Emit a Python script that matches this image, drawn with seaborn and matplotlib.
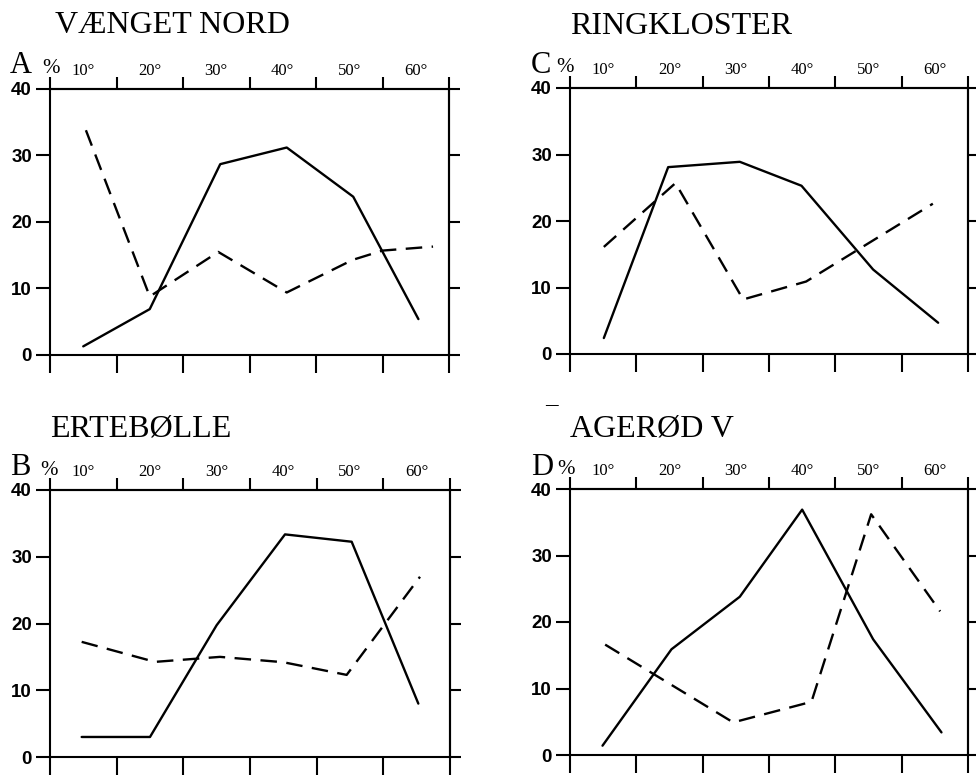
import matplotlib
matplotlib.use('Agg')
import matplotlib.pyplot as plt
import seaborn as sns
import pandas as pd
from matplotlib import font_manager

sns.set_style('ticks')
plt.rcParams['font.family'] = ['Liberation Serif', 'DejaVu Serif']
for k in ['text.color', 'axes.labelcolor', 'xtick.color', 'ytick.color', 'axes.edgecolor']:
    plt.rcParams[k] = 'black'

_names = {f.name for f in font_manager.fontManager.ttflist}
YFONT = 'Liberation Sans Narrow' if 'Liberation Sans Narrow' in _names else 'Liberation Sans'

# ---------------- data ----------------
titles = ['VÆNGET NORD', 'RINGKLOSTER', 'ERTEBØLLE', 'AGERØD V']
letters = ['A', 'C', 'B', 'D']
deg_centers = [10, 20, 30, 40, 50, 60]
deg_labels = ['10°', '20°', '30°', '40°', '50°', '60°']
bin_edges = [5, 15, 25, 35, 45, 55, 65]
y_ticks = [0, 10, 20, 30, 40]
y_labels = ['0', '10', '20', '30', '40']

a_solid_x = [10.0, 20.0, 30.6, 40.6, 50.6, 60.4]
a_solid_y = [1.3, 6.9, 28.7, 31.2, 23.8, 5.4]
a_dash_x = [10.4, 20.0, 30.3, 40.6, 50.5, 55.0, 62.6]
a_dash_y = [33.8, 8.8, 15.5, 9.4, 14.3, 15.7, 16.3]

c_solid_x = [10.1, 19.8, 30.6, 39.9, 50.7, 60.5]
c_solid_y = [2.4, 28.1, 28.9, 25.3, 12.7, 4.7]
c_dash_x = [10.1, 20.9, 31.1, 40.6, 59.7]
c_dash_y = [16.1, 25.7, 8.2, 10.9, 22.6]

b_solid_x = [9.75, 20.0, 30.0, 40.25, 50.25, 60.25]
b_solid_y = [3.0, 3.0, 19.75, 33.35, 32.25, 8.0]
b_dash_x = [9.75, 20.75, 30.5, 40.0, 49.5, 60.5]
b_dash_y = [17.25, 14.25, 15.0, 14.2, 12.3, 27.0]

d_solid_x = [9.9, 20.3, 30.6, 40.0, 50.7, 61.0]
d_solid_y = [1.4, 15.9, 23.8, 36.9, 17.4, 3.4]
d_dash_x = [10.3, 29.6, 41.4, 50.4, 60.8]
d_dash_y = [16.6, 4.9, 8.0, 36.2, 21.6]

panels = [
    (a_solid_x, a_solid_y, a_dash_x, a_dash_y),
    (c_solid_x, c_solid_y, c_dash_x, c_dash_y),
    (b_solid_x, b_solid_y, b_dash_x, b_dash_y),
    (d_solid_x, d_solid_y, d_dash_x, d_dash_y),
]

# ---------------- layout (pixels) ----------------
W, H = 976, 775
rects = [(50, 89, 449, 355), (570, 88, 968, 354), (50, 490, 450, 757), (570, 489, 968, 755)]
title_pos = [(55, 33), (570, 34), (50, 436), (570, 436)]
letter_pos = [(10, 73), (531, 73), (10, 475), (531, 475)]
pct_pos = [(42, 73), (556, 72), (40, 475), (557, 474)]

fig = plt.figure(figsize=(W / 100, H / 100), dpi=100)
LW = 1.5

for i, (sx, sy, dx, dy) in enumerate(panels):
    l, t, r, b = rects[i]
    ax = fig.add_axes([l / W, 1 - b / H, (r - l) / W, (b - t) / H])
    df = pd.concat([
        pd.DataFrame({'deg': sx, 'pct': sy, 'kind': 'solid'}),
        pd.DataFrame({'deg': dx, 'pct': dy, 'kind': 'dashed'}),
    ], ignore_index=True)
    sns.lineplot(data=df, x='deg', y='pct', style='kind',
                 dashes={'solid': '', 'dashed': (7, 4)},
                 color='black', lw=1.7, sort=False, estimator=None,
                 legend=False, ax=ax)
    ax.set_xlim(5, 65)
    ax.set_ylim(0, 40)
    ax.set_xlabel('')
    ax.set_ylabel('')
    for sp in ax.spines.values():
        sp.set_visible(True)
        sp.set_linewidth(LW)
        sp.set_color('black')
    # bottom ticks
    ax.set_xticks(bin_edges)
    ax.set_xticklabels([])
    ax.tick_params(axis='x', which='major', direction='out', length=13,
                   width=LW, bottom=True, top=False)
    # left ticks with labels
    ax.set_yticks(y_ticks)
    ax.set_yticklabels(y_labels, fontfamily=YFONT, fontweight='bold')
    ax.tick_params(axis='y', which='major', direction='out', length=10,
                   width=LW, left=True, right=False, labelsize=13.5, pad=3)
    # top axis: boundary ticks + centred degree labels
    top = ax.secondary_xaxis('top')
    top.set_xticks(bin_edges)
    top.set_xticklabels([''] * len(bin_edges))
    top.set_xticks(deg_centers, minor=True)
    top.set_xticklabels(deg_labels, minor=True)
    top.tick_params(axis='x', which='major', direction='out', length=9, width=LW)
    top.tick_params(axis='x', which='minor', length=0, labelsize=12, pad=7)
    top.spines['top'].set_linewidth(LW)
    # right axis ticks
    right = ax.secondary_yaxis('right')
    right.set_yticks(y_ticks)
    right.set_yticklabels([''] * len(y_ticks))
    right.tick_params(axis='y', direction='out', length=8, width=LW)
    right.spines['right'].set_linewidth(LW)

    tx, ty = title_pos[i]
    fig.text(tx / W, 1 - ty / H, titles[i], fontsize=23, ha='left', va='baseline')
    lx, ly = letter_pos[i]
    fig.text(lx / W, 1 - ly / H, letters[i], fontsize=22, ha='left', va='baseline')
    px, py = pct_pos[i]
    fig.text(px / W, 1 - py / H, '%', fontsize=15, ha='left', va='baseline')

fig.text(545 / W, 1 - 410 / H, '–', fontsize=18, ha='left', va='baseline')

fig.savefig('out.png', dpi=100)
